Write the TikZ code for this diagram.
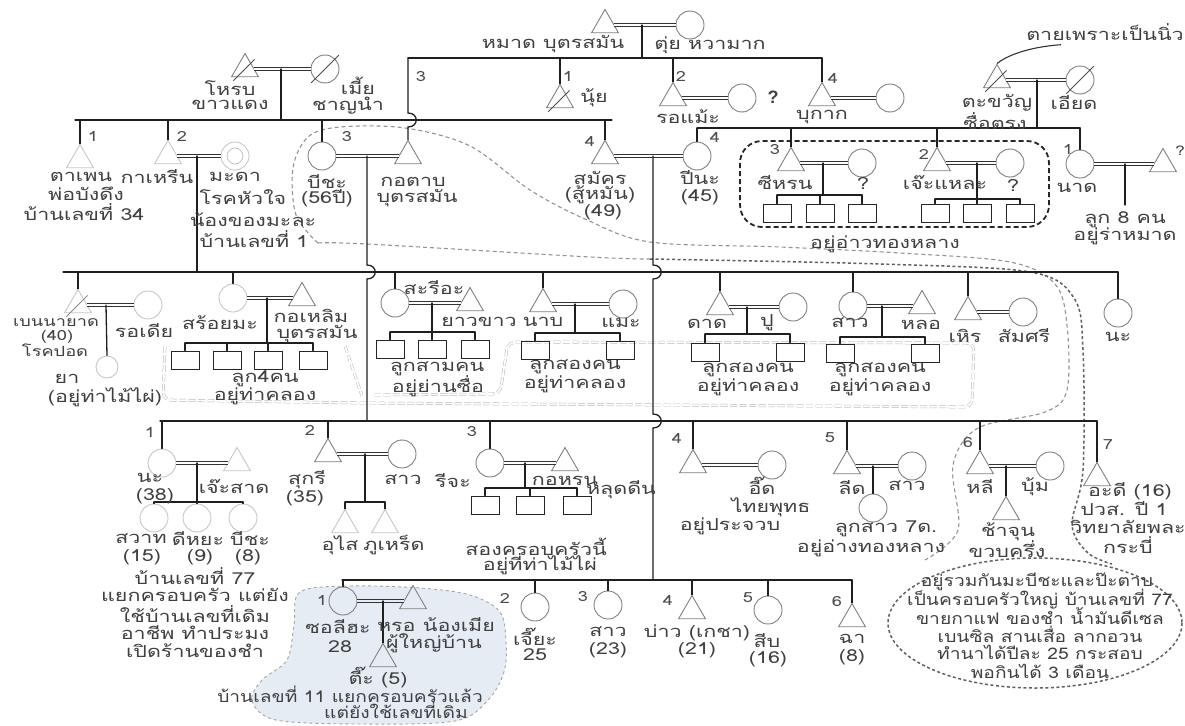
\documentclass[tikz,border=0pt]{standalone}
\usepackage{fontspec}
\newfontfamily\thaifont[Script=Thai,FakeStretch=1.3]{Loma}
\newfontfamily\thainar[Script=Thai,FakeStretch=1.2]{Loma}
\newfontfamily\qfont{Liberation Sans}
\usetikzlibrary{calc,shapes.geometric}
\definecolor{bluereg}{RGB}{229,236,244}
\newcommand\lbl[3]{\node[txt] (#1) at (#2) {#3};}
\newcommand\lbs[3]{\node[txt,smalltxt] (#1) at (#2) {#3};}
\newcommand\lbn[3]{\node[txt,nartxt] (#1) at (#2) {#3};}
\newcommand\nmb[3]{\node[num] (#1) at (#2) {#3};}
\begin{document}
\begin{tikzpicture}[x=1pt,y=-1pt,
 font=\thaifont\fontsize{16.5}{17}\selectfont,
 ln/.style={line width=1.3pt,draw=black!88,line cap=round},
 marr/.style={draw=black!80,line width=0.8pt,double=white,double distance=2.6pt},
 shp/.style={draw=black!50,line width=0.9pt,inner sep=0pt},
 cir/.style={shp,circle,minimum size=28pt},
 tri/.style={shp,regular polygon,regular polygon sides=3,minimum size=31pt},
 faint/.style={draw=black!22},
 sq/.style={rectangle,draw=black!85,line width=1pt,minimum width=28pt,minimum height=18pt,inner sep=0pt},
 txt/.style={text=black!75,inner sep=0pt},
 smalltxt/.style={font=\thaifont\fontsize{14}{14}\selectfont},
 nartxt/.style={font=\thainar\fontsize{16}{17}\selectfont},
 num/.style={text=black!70,inner sep=0pt,font=\thaifont\fontsize{14}{14}\selectfont},
 slash/.style={draw=black!70,line width=0.9pt,shorten <=-5pt,shorten >=-5pt},
 chainln/.style={draw=black!28,line width=0.5pt,double=white,double distance=1.8pt,dash pattern=on 7pt off 2.5pt},
 gdash/.style={draw=black!42,line width=1.1pt,dash pattern=on 4pt off 3pt},
 ddash/.style={draw=black!62,line width=1.5pt,dash pattern=on 3pt off 2.5pt},
 boxdash/.style={draw=black!85,line width=1.8pt,dash pattern=on 5pt off 3pt}
]
\fill[white] (0,0) rectangle (1185,725);
\useasboundingbox (0,0) rectangle (1185,725);

% ---------- background regions
\filldraw[fill=bluereg,draw=black!35,line width=0.9pt,dash pattern=on 3pt off 3pt]
  plot[smooth cycle,tension=0.55] coordinates {(300,592) (350,586) (420,588) (470,595) (500,612) (506,642) (504,672) (488,700) (455,721) (360,724) (276,720) (252,701) (262,680) (287,660) (294,625)};
\draw[chainln,rounded corners=8pt] (165,346) -- (163,400) -- (362,403) -- (972,407) -- (974,343) -- (508,342) -- (500,394) -- (372,395);
\draw[chainln] (345,346) -- (362,396);
\draw[gdash] plot[smooth,tension=0.55] coordinates {(318,243) (296,215) (293,168) (308,137) (340,127) (405,128) (470,146) (530,190) (585,219) (650,242) (780,247) (900,253) (1010,262) (1055,284) (1067,325) (1067,390) (1045,412) (978,428) (953,465) (958,530) (925,560)};
\draw[gdash] plot[smooth,tension=0.55] coordinates {(318,243) (367,244) (590,257) (650,259)};
\draw[ddash] plot[smooth,tension=0.55] coordinates {(650,259) (880,264) (1030,272) (1074,298) (1083,350) (1083,470) (1072,525) (1088,553) (1112,564)};
\draw[ddash] (1035,623) ellipse [x radius=147,y radius=65];
\draw[boxdash,rounded corners=22pt] (740,141) rectangle (1049,227);

% ---------- generation 0
\node[tri] (mat) at (605,25) {};
\node[cir] (tui) at (690,25) {};
\draw[marr] (mat) -- (tui);
\coordinate (j0) at (642,25);
\coordinate (L0a) at (408,58);
\coordinate (L0b) at (822,58);
\draw[ln] (j0) -- (j0 |- L0a);
\draw[ln] (L0a) -- (L0b);
\lbl{tmat}{553,44}{หมาด บุตรสมัน}
\lbl{ttui}{710,45}{ตุ่ย หวามาก}

\node[tri] (nui) at (560,100) {};
\draw[slash] (nui.south west) -- (nui.north east);
\draw[ln] (nui.north |- L0a) -- (nui.north);
\nmb{n01}{568,76}{1}
\lbl{tnui}{594,98}{นุ้ย}

\node[tri] (romae) at (673,98) {};
\node[cir] (romaew) at (742,98) {};
\draw[marr] (romae) -- (romaew);
\draw[ln] (romae.north |- L0a) -- (romae.north);
\nmb{n02}{681,76}{2}
\node[txt,font=\qfont\bfseries\fontsize{18}{18}\selectfont] (q1) at (773,97) {?};
\lbl{tromae}{688,117}{รอแม้ะ}

\node[tri] (bukak) at (822,98) {};
\node[cir] (bukakw) at (890,98) {};
\draw[marr] (bukak) -- (bukakw);
\draw[ln] (bukak.north |- L0a) -- (bukak.north);
\nmb{n04}{833,78}{4}
\lbl{tbukak}{822,117}{บุกาก}

% ---------- โหรบ
\node[tri] (horp) at (245,69) {};
\draw[slash] (horp.south west) -- (horp.north east);
\node[cir] (mia) at (325,69) {};
\draw[slash] (mia.south west) -- (mia.north east);
\draw[marr] (horp) -- (mia);
\coordinate (j1) at (281,69);
\coordinate (L1a) at (75,120);
\coordinate (L1b) at (612,120);
\draw[ln] (j1) -- (j1 |- L1a);
\draw[ln] (L1a) -- (L1b);
\lbl{thorp}{230,88}{โหรบ}
\lbl{thorp2}{230,105}{ขาวแดง}
\lbl{tmia}{358,86}{เมี้ย}
\lbl{tmia2}{348,106}{ชาญนำ}

\node[tri] (kotab) at (408,156) {};
\coordinate (h1) at (kotab.north |- L1a);
\draw[ln] (kotab.north |- L0a) -- ($(h1)+(0,-7)$) .. controls ($(h1)+(11,-7)$) and ($(h1)+(11,7)$) .. ($(h1)+(0,7)$) -- (kotab.north);
\nmb{n03}{421,77}{3}

% ---------- children of โหรบ
\node[tri,faint] (tapen) at (80,160) {};
\draw[ln] (tapen.north |- L1a) -- (tapen.north);
\nmb{n11}{93,136}{1}
\node[tri,faint] (karin) at (168,156) {};
\node[cir,faint] (mada) at (235,156) {};
\draw[black!22,line width=0.9pt] (mada.center) circle[radius=8];
\draw[marr] (karin) -- (mada);
\draw[ln] (karin.north |- L1a) -- (karin.north);
\nmb{n12}{182,136}{2}
\coordinate (j2) at (197,156);
\coordinate (L2a) at (63,272);
\coordinate (L2b) at (1118,272);
\draw[ln] (j2) -- (j2 |- L2a);
\draw[ln] (L2a) -- (L2b);
\lbl{ttapen}{81,177}{ตาเพน}
\lbl{tkarin}{157,177}{กาเหรีน}
\lbl{ttapen2}{86,194}{พ่อบังดึง}
\lbl{ttapen3}{84,212}{บ้านเลขที่ 34}
\lbl{tmada}{235,177}{มะดา}
\lbl{tmada2}{243,197}{โรคหัวใจ}
\lbl{tmada3}{253,220}{น้องของมะละ}
\lbl{tmada4}{254,239}{บ้านเลขที่ 1}

\node[cir] (bicha) at (322,156) {};
\draw[ln] (bicha.north |- L1a) -- (bicha.north);
\nmb{n13}{347,137}{3}
\draw[marr] (bicha) -- (kotab);
\coordinate (jb) at (367,156);
\coordinate (L3a) at (160,421);
\coordinate (L3b) at (1097,421);
\coordinate (h4) at (jb |- L2a);
\draw[ln] (jb) -- ($(h4)+(0,-7)$) .. controls ($(h4)+(11,-7)$) and ($(h4)+(11,7)$) .. ($(h4)+(0,7)$) -- (jb |- L3a);
\draw[ln] (L3a) -- (L3b);
\lbl{tbicha}{327,182}{บีชะ}
\lbl{tbicha2}{327,198}{(56ปี)}
\lbl{tkotab}{413,182}{กอตาบ}
\lbl{tkotab2}{417,198}{บุตรสมัน}

\node[tri] (samak) at (605,156) {};
\draw[ln] (samak.north |- L1a) -- (samak.north);
\nmb{n14}{590,141}{4}
\coordinate (Lta) at (697,128);
\coordinate (Ltb) at (1080,128);
\node[cir] (pina) at (697,156) {};
\draw[ln] (pina.north |- Lta) -- (pina.north);
\nmb{nt4}{715,137}{4}
\draw[marr] (samak) -- (pina);
\coordinate (j3) at (653,156);
\coordinate (L4a) at (342,580);
\coordinate (L4b) at (852,580);
\coordinate (h2) at (j3 |- L2a);
\coordinate (h3) at (j3 |- L3a);
\draw[ln] (j3) -- ($(h2)+(0,-7)$) .. controls ($(h2)+(11,-7)$) and ($(h2)+(11,7)$) .. ($(h2)+(0,7)$) -- ($(h3)+(0,-7)$) .. controls ($(h3)+(11,-7)$) and ($(h3)+(11,7)$) .. ($(h3)+(0,7)$) -- (j3 |- L4a);
\draw[ln] (L4a) -- (L4b);
\lbl{tsamak}{600,178}{สมัคร}
\lbl{tsamak2}{600,195}{(สู้หมัน)}
\lbl{tsamak3}{603,212}{(49)}
\lbl{tpina}{700,178}{ปีนะ}
\lbl{tpina2}{700,197}{(45)}

% ---------- ตะขวัญ
\node[tri] (takwan) at (997,80) {};
\draw[slash] (takwan.south west) -- (takwan.north east);
\node[cir] (iad) at (1080,80) {};
\draw[slash] (iad.south west) -- (iad.north east);
\draw[marr] (takwan) -- (iad);
\coordinate (j4) at (1037,80);
\draw[ln] (j4) -- (j4 |- Lta);
\draw[ln] (Lta) -- (Ltb);
\lbl{tdeath}{1105,32}{ตายเพราะเป็นนิ่ว}
\coordinate (cst) at ($(tdeath.south west)!0.22!(tdeath.south east)$);
\draw[line width=1.1pt,black!80] ($(cst)+(0,4)$) .. controls (1028,47) and (1006,56) .. (takwan.north);
\lbl{ttakwan}{997,103}{ตะขวัญ}
\lbl{ttakwan2}{995,121}{ซื่อตรง}
\lbl{tiad}{1074,103}{เอียด}

\node[tri] (chirn) at (791,163) {};
\node[cir] (chirnw) at (862,163) {};
\draw[marr] (chirn) -- (chirnw);
\draw[ln] (chirn.north |- Lta) -- (chirn.north);
\nmb{nt3}{775,150}{3}
\coordinate (j5) at (823,163);
\coordinate (b5a) at (777,195);
\coordinate (b5b) at (862,195);
\draw[ln] (j5) -- (j5 |- b5a);
\draw[ln] (b5a) -- (b5b);
\node[sq] (s51) at (777,213) {};
\node[sq] (s52) at (820,213) {};
\node[sq] (s53) at (862,213) {};
\draw[ln] (s51.north) -- (s51.north |- b5a);
\draw[ln] (s52.north) -- (s52.north |- b5a);
\draw[ln] (s53.north) -- (s53.north |- b5a);
\lbl{tchirn}{785,183}{ซีหรน}
\lbl{tq2}{863,183}{?}

\node[tri] (jelae) at (937,163) {};
\node[cir] (jelaew) at (1010,163) {};
\draw[marr] (jelae) -- (jelaew);
\draw[ln] (jelae.north |- Lta) -- (jelae.north);
\nmb{nt2}{924,154}{2}
\coordinate (j6) at (977,163);
\coordinate (b6a) at (935,199);
\coordinate (b6b) at (1020,199);
\draw[ln] (j6) -- (j6 |- b6a);
\draw[ln] (b6a) -- (b6b);
\node[sq] (s61) at (935,213) {};
\node[sq] (s62) at (977,213) {};
\node[sq] (s63) at (1020,213) {};
\draw[ln] (s61.north) -- (s61.north |- b6a);
\draw[ln] (s62.north) -- (s62.north |- b6a);
\draw[ln] (s63.north) -- (s63.north |- b6a);
\lbl{tjelae}{945,183}{เจ๊ะแหละ}
\lbl{tq3}{1013,185}{?}

\node[cir] (nat) at (1080,164) {};
\node[tri] (nath) at (1163,164) {};
\draw[marr] (nat) -- (nath);
\draw[ln] (nat.north |- Lta) -- (nat.north);
\nmb{nt1}{1068,149}{1}
\node[txt,font=\thaifont\fontsize{13}{13}\selectfont] (q4) at (1180,151) {?};
\coordinate (j7) at (1125,164);
\coordinate (e7) at (1125,205);
\draw[ln] (j7) -- (e7);
\lbl{tnat}{1077,188}{นาด}
\lbl{tnat2}{1125,220}{ลูก 8 คน}
\lbl{tnat3}{1125,236}{อยู่ร่าหมาด}
\lbl{tthong}{885,244}{อยู่อ่าวทองหลาง}

% ---------- generation line L2
\node[tri,faint] (benn) at (78,305) {};
\draw[slash,black!45] (benn.south west) -- (benn.north east);
\node[cir,faint] (rodia) at (148,305) {};
\draw[marr] (benn) -- (rodia);
\draw[ln] (benn.north |- L2a) -- (benn.north);
\coordinate (jbn) at (106,305);
\node[cir,faint,minimum size=22pt] (ya) at (107,367) {};
\draw[ln] (jbn) -- (ya.north);
\lbs{tbenn}{56,323}{เบนนายาด}
\lbs{tbenn2}{57,337}{(40)}
\lbs{tbenn3}{55,350}{โรคปอด}
\lbl{trodia}{144,331}{รอเดีย}
\lbl{tya}{67,379}{ยา}
\lbl{tya2}{105,397}{(อยู่ท่าไม้ไผ่)}

\node[cir,faint] (soimae) at (233,298) {};
\node[tri] (koelim) at (302,298) {};
\draw[marr] (soimae) -- (koelim);
\draw[ln] (soimae.north |- L2a) -- (soimae.north);
\coordinate (jsm) at (267,298);
\coordinate (bsma) at (185,343);
\coordinate (bsmb) at (313,343);
\draw[ln] (jsm) -- (jsm |- bsma);
\draw[ln] (bsma) -- (bsmb);
\node[sq] (ssm1) at (185,360) {};
\node[sq] (ssm2) at (227,360) {};
\node[sq] (ssm3) at (268,360) {};
\node[sq] (ssm4) at (313,360) {};
\draw[ln] (ssm1.north) -- (ssm1.north |- bsma);
\draw[ln] (ssm2.north) -- (ssm2.north |- bsma);
\draw[ln] (ssm3.north) -- (ssm3.north |- bsma);
\draw[ln] (ssm4.north) -- (ssm4.north |- bsma);
\lbl{tsoimae}{220,323}{สร้อยมะ}
\lbl{tkoelim}{311,316}{กอเหลิม}
\lbl{tkoelim2}{317,334}{บุตรสมัน}
\lbl{tsm1}{265,379}{ลูก4คน}
\lbl{tsm2}{265,396}{อยู่ท่าคลอง}

\node[cir] (sarioh) at (395,303) {};
\node[tri] (yaokao) at (470,303) {};
\draw[marr] (sarioh) -- (yaokao);
\draw[ln] (sarioh.north |- L2a) -- (sarioh.north);
\coordinate (jsr) at (432,303);
\coordinate (bsra) at (390,332);
\coordinate (bsrb) at (475,332);
\draw[ln] (jsr) -- (jsr |- bsra);
\draw[ln] (bsra) -- (bsrb);
\node[sq] (ssr1) at (390,349) {};
\node[sq] (ssr2) at (432,349) {};
\node[sq] (ssr3) at (475,349) {};
\draw[ln] (ssr1.north) -- (ssr1.north |- bsra);
\draw[ln] (ssr2.north) -- (ssr2.north |- bsra);
\draw[ln] (ssr3.north) -- (ssr3.north |- bsra);
\lbl{tsarioh}{434,288}{สะรีอะ}
\lbl{tyaokao}{479,322}{ยาวขาว}
\lbl{tsr1}{437,369}{ลูกสามคน}
\lbl{tsr2}{438,386}{อยู่ย่านซื่อ}

\node[tri] (nab) at (543,304) {};
\node[cir] (mae) at (623,304) {};
\draw[marr] (nab) -- (mae);
\draw[ln] (nab.north |- L2a) -- (nab.north);
\coordinate (jnb) at (575,304);
\coordinate (bnba) at (535,333);
\coordinate (bnbb) at (620,333);
\draw[ln] (jnb) -- (jnb |- bnba);
\draw[ln] (bnba) -- (bnbb);
\node[sq] (snb1) at (535,350) {};
\node[sq] (snb2) at (620,350) {};
\draw[ln] (snb1.north) -- (snb1.north |- bnba);
\draw[ln] (snb2.north) -- (snb2.north |- bnba);
\lbl{tnab}{543,322}{นาบ}
\lbl{tmae}{621,323}{แมะ}
\lbl{tnb1}{575,367}{ลูกสองคน}
\lbl{tnb2}{575,384}{อยู่ท่าคลอง}

\node[tri] (dad) at (720,307) {};
\node[cir] (pu) at (793,307) {};
\draw[marr] (dad) -- (pu);
\draw[ln] (dad.north |- L2a) -- (dad.north);
\coordinate (jdd) at (747,307);
\coordinate (bdda) at (705,334);
\coordinate (bddb) at (790,334);
\draw[ln] (jdd) -- (jdd |- bdda);
\draw[ln] (bdda) -- (bddb);
\node[sq] (sdd1) at (705,352) {};
\node[sq] (sdd2) at (790,352) {};
\draw[ln] (sdd1.north) -- (sdd1.north |- bdda);
\draw[ln] (sdd2.north) -- (sdd2.north |- bdda);
\lbl{tdad}{707,324}{ดาด}
\lbl{tpu}{767,323}{ปู}
\lbl{tdd1}{748,370}{ลูกสองคน}
\lbl{tdd2}{748,387}{อยู่ท่าคลอง}

\node[cir] (sao) at (853,306) {};
\node[tri] (lo) at (922,306) {};
\draw[marr] (sao) -- (lo);
\draw[ln] (sao.north |- L2a) -- (sao.north);
\coordinate (jsa) at (882,306);
\coordinate (bsaa) at (840,337);
\coordinate (bsab) at (925,337);
\draw[ln] (jsa) -- (jsa |- bsaa);
\draw[ln] (bsaa) -- (bsab);
\node[sq] (ssa1) at (840,353) {};
\node[sq] (ssa2) at (925,353) {};
\draw[ln] (ssa1.north) -- (ssa1.north |- bsaa);
\draw[ln] (ssa2.north) -- (ssa2.north |- bsaa);
\lbl{tsao}{850,323}{สาว}
\lbl{tlo}{921,325}{หลอ}
\lbl{tsa1}{880,370}{ลูกสองคน}
\lbl{tsa2}{880,387}{อยู่ท่าคลอง}

\node[tri] (hoen) at (968,312) {};
\node[cir] (somsri) at (1023,312) {};
\draw[marr] (hoen) -- (somsri);
\draw[ln] (hoen.north |- L2a) -- (hoen.north);
\lbl{thoen}{965,336}{เหิร}
\lbl{tsomsri}{1024,336}{สัมศรี}
\node[cir] (na2) at (1118,313) {};
\draw[ln] (na2.north |- L2a) -- (na2.north);
\lbl{tna2}{1118,337}{นะ}

% ---------- generation line L3 (children of บีชะ)
\node[cir,faint] (na3) at (162,463) {};
\node[tri,faint] (jesad) at (237,463) {};
\draw[marr] (na3) -- (jesad);
\draw[ln] (na3.north |- L3a) -- (na3.north);
\nmb{n31}{150,432}{1}
\coordinate (jns) at (197,463);
\coordinate (bnsa) at (154,502);
\coordinate (bnsb) at (243,502);
\draw[ln] (jns) -- (jns |- bnsa);
\draw[ln] (bnsa) -- (bnsb);
\node[cir,faint] (sawat) at (154,518) {};
\node[cir,faint] (diya) at (197,518) {};
\node[cir,faint] (bicha2) at (243,518) {};
\draw[ln] (sawat.north) -- (sawat.north |- bnsa);
\draw[ln] (diya.north) -- (diya.north |- bnsa);
\draw[ln] (bicha2.north) -- (bicha2.north |- bnsa);
\lbl{tna3}{150,478}{นะ}
\lbl{tna3b}{155,496}{(38)}
\lbl{tjesad}{234,487}{เจ๊ะสาด}
\lbl{tsawat}{141,539}{สวาท}
\lbl{tdiya}{198,539}{ดีหยะ}
\lbl{tbicha3}{250,539}{บีชะ}
\lbl{tsawat2}{142,557}{(15)}
\lbl{tdiya2}{200,557}{(9)}
\lbl{tbicha4}{248,557}{(8)}
\lbl{tf1}{195,576}{บ้านเลขที่ 77}
\lbl{tf2}{195,595}{แยกครอบครัว แต่ยัง}
\lbl{tf3}{195,614}{ใช้บ้านเลขที่เดิม}
\lbl{tf4}{195,633}{อาชีพ ทำประมง}
\lbl{tf5}{195,651}{เปิดร้านของชำ}

\node[tri] (sukri) at (328,454) {};
\node[cir] (sao2) at (402,454) {};
\draw[marr] (sukri) -- (sao2);
\draw[ln] (sukri.north |- L3a) -- (sukri.north);
\nmb{n32}{310,430}{2}
\coordinate (jsk) at (365,454);
\coordinate (bska) at (345,502);
\coordinate (bskb) at (385,502);
\draw[ln] (jsk) -- (jsk |- bska);
\draw[ln] (bska) -- (bskb);
\node[tri,faint] (usai) at (345,525) {};
\node[tri,faint] (phuret) at (385,525) {};
\draw[ln] (usai.north) -- (usai.north |- bska);
\draw[ln] (phuret.north) -- (phuret.north |- bska);
\lbl{tsukri}{307,480}{สุกรี}
\lbl{tsukri2}{305,498}{(35)}
\lbl{tsao2}{403,480}{สาว}
\lbl{tusai}{340,545}{อุไส}
\lbl{tphuret}{394,545}{ภูเหร็ด}

\node[cir] (richa) at (490,463) {};
\node[tri] (kohorn) at (565,463) {};
\draw[marr] (richa) -- (kohorn);
\draw[ln] (richa.north |- L3a) -- (richa.north);
\nmb{n33}{472,432}{3}
\coordinate (jrc) at (525,463);
\coordinate (brca) at (485,488);
\coordinate (brcb) at (577,488);
\draw[ln] (jrc) -- (jrc |- brca);
\draw[ln] (brca) -- (brcb);
\node[sq] (src1) at (485,505) {};
\node[sq] (src2) at (530,505) {};
\node[sq] (src3) at (577,505) {};
\draw[ln] (src1.north) -- (src1.north |- brca);
\draw[ln] (src2.north) -- (src2.north |- brca);
\draw[ln] (src3.north) -- (src3.north |- brca);
\lbl{trcha}{453,481}{รีจะ}
\lbl{tkohorn}{565,481}{กอหรน}
\lbl{trc1}{536,547}{สองครอบครัวนี้}
\lbl{trc2}{540,564}{อยู่ที่ท่าไม้ไผ่}

\node[tri] (ludin) at (693,465) {};
\node[cir] (id) at (772,465) {};
\draw[marr] (ludin) -- (id);
\draw[ln] (ludin.north |- L3a) -- (ludin.north);
\nmb{n34}{677,438}{4}
\lbl{tludin}{621,490}{หลุดดีน}
\lbl{tid}{762,486}{อี๊ด}
\lbl{tid2}{771,507}{ไทยพุทธ}
\lbl{tid3}{730,526}{อยู่ประจวบ}

\node[tri] (lid) at (847,466) {};
\node[cir] (lidw) at (912,466) {};
\draw[marr] (lid) -- (lidw);
\draw[ln] (lid.north |- L3a) -- (lid.north);
\nmb{n35}{830,438}{5}
\coordinate (jld) at (873,466);
\node[cir] (lidc) at (873,508) {};
\draw[ln] (jld) -- (lidc.north);
\lbl{tlid}{852,488}{ลีด}
\lbl{tlidw}{907,486}{สาว}
\lbl{tlidc}{886,529}{ลูกสาว 7ด.}
\lbl{tlidc2}{871,548}{อยู่อ่างทองหลาง}

\node[tri] (li) at (980,466) {};
\node[cir] (bum) at (1050,466) {};
\draw[marr] (li) -- (bum);
\draw[ln] (li.north |- L3a) -- (li.north);
\nmb{n36}{968,443}{6}
\coordinate (jli) at (1006,466);
\node[tri] (chajun) at (1006,512) {};
\draw[ln] (jli) -- (chajun.north);
\lbl{tli}{980,487}{หลี}
\lbl{tbum}{1035,487}{บุ้ม}
\lbl{tchajun}{1008,532}{ช้าจุน}
\lbl{tchajun2}{1007,549}{ขวบครึ่ง}

\node[tri] (adi) at (1097,478) {};
\draw[ln] (adi.north |- L3a) -- (adi.north);
\nmb{n37}{1108,445}{7}
\lbl{tadi}{1130,491}{อะดี (16)}
\lbl{tadi2}{1124,509}{ปวส. ปี 1}
\lbl{tadi3}{1128,527}{วิทยาลัยพละ}
\lbl{tadi4}{1128,545}{กระบี่}

% ---------- generation line L4 (children of สมัคร)
\node[cir] (soliha) at (343,601) {};
\node[tri] (hro) at (413,601) {};
\draw[marr,double=bluereg] (soliha) -- (hro);
\draw[ln] (soliha.north |- L4a) -- (soliha.north);
\nmb{n41}{322,600}{1}
\coordinate (jso) at (383,601);
\node[tri] (tia) at (383,659) {};
\draw[ln] (jso) -- (tia.north);
\lbl{tsoliha}{338,627}{ซอลีฮะ}
\lbl{tsoliha2}{340,647}{28}
\lbl{thro}{436,625}{หรอ น้องเมีย}
\lbl{thro2}{434,643}{ผู้ใหญ่บ้าน}
\lbl{ttia}{378,677}{ตี๊ะ (5)}
\lbn{ttia2}{350,694}{บ้านเลขที่ 11 แยกครอบครัวแล้ว}
\lbn{ttia3}{396,710}{แต่ยังใช้เลขที่เดิม}

\node[cir] (jia) at (535,607) {};
\draw[ln] (jia.north |- L4a) -- (jia.north);
\nmb{n42}{505,598}{2}
\lbl{tjia}{535,637}{เจี๊ยะ}
\lbl{tjia2}{535,655}{25}
\node[cir] (sao3) at (608,605) {};
\draw[ln] (sao3.north |- L4a) -- (sao3.north);
\nmb{n43}{583,597}{3}
\lbl{tsao3}{608,632}{สาว}
\lbl{tsao3b}{608,650}{(23)}
\node[tri] (bao) at (692,611) {};
\draw[ln] (bao.north |- L4a) -- (bao.north);
\nmb{n44}{668,600}{4}
\lbl{tbao}{697,633}{บ่าว (เกชา)}
\lbl{tbao2}{697,650}{(21)}
\node[cir] (sib) at (768,610) {};
\draw[ln] (sib.north |- L4a) -- (sib.north);
\nmb{n45}{748,598}{5}
\lbl{tsib}{767,641}{สีบ}
\lbl{tsib2}{768,659}{(16)}
\node[tri] (cha) at (852,619) {};
\draw[ln] (cha.north |- L4a) -- (cha.north);
\nmb{n46}{837,602}{6}
\lbl{tcha}{852,639}{ฉา}
\lbl{tcha2}{852,657}{(8)}

% ---------- note in ellipse
\lbn{te1}{1037,582}{อยู่รวมกันมะบีชะและป๊ะตาบ}
\lbn{te2}{1040,599}{เป็นครอบครัวใหญ่ บ้านเลขที่ 77}
\lbn{te3}{1040,616}{ขายกาแฟ ของชำ น้ำมันดีเซล}
\lbn{te4}{1040,634}{เบนซิล สานเสื่อ ลากอวน}
\lbn{te5}{1040,652}{ทำนาได้ปีละ 25 กระสอบ}
\lbn{te6}{1040,671}{พอกินได้ 3 เดือน}
\end{tikzpicture}
\end{document}
